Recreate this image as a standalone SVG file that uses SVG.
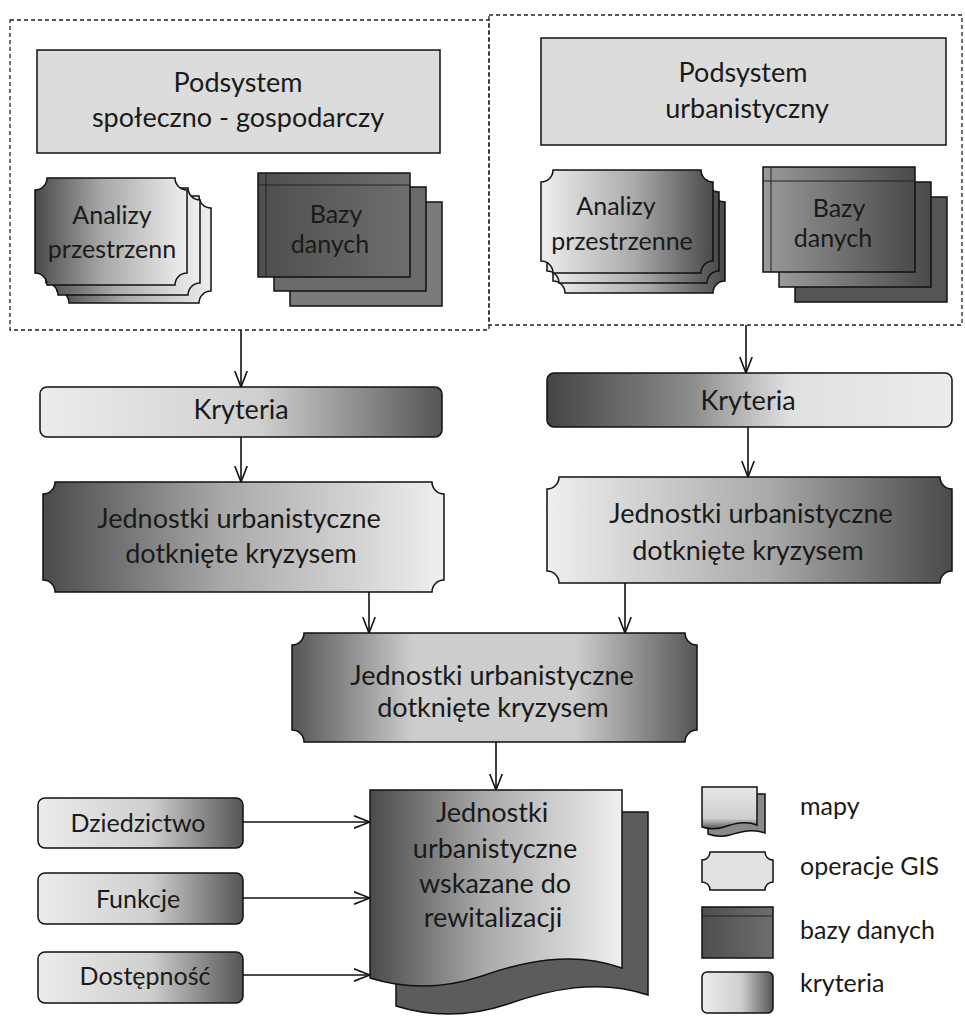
<svg xmlns="http://www.w3.org/2000/svg" width="965" height="1018" viewBox="0 0 965 1018">
<style>
text{font-family:Lato,"Liberation Sans",sans-serif;fill:#1a1a1a;text-anchor:middle}
.t27{font-size:27px}
.t26{font-size:27px}
.t25{font-size:25px}
.lg{font-size:25px;text-anchor:start}
.sh{stroke:#111;stroke-width:1.5}
.cont{fill:none;stroke:#222;stroke-width:1.3;stroke-dasharray:4 3}
.conn line{stroke:#111;stroke-width:1.6;marker-end:url(#arr)}
.inner{stroke:#222;stroke-width:1;fill:none}
</style>
<defs>
<marker id="arr" viewBox="0 0 16 14" refX="16" refY="7" markerWidth="16" markerHeight="14" markerUnits="userSpaceOnUse" orient="auto">
<path d="M0,0.8 L16,7 L0,13.2" fill="none" stroke="#111" stroke-width="1.6"/>
</marker>
<linearGradient id="dL" x1="0" y1="0" x2="1" y2="0">
<stop offset="0" stop-color="#4a4a4a"/><stop offset="0.45" stop-color="#a9a9a9"/><stop offset="1" stop-color="#efefef"/>
</linearGradient>
<linearGradient id="dR" x1="0" y1="0" x2="1" y2="0">
<stop offset="0" stop-color="#efefef"/><stop offset="0.55" stop-color="#a9a9a9"/><stop offset="1" stop-color="#4a4a4a"/>
</linearGradient>
<linearGradient id="kL" x1="0" y1="0" x2="1" y2="0">
<stop offset="0" stop-color="#ececec"/><stop offset="0.55" stop-color="#cfcfcf"/><stop offset="1" stop-color="#555"/>
</linearGradient>
<linearGradient id="kR" x1="0" y1="0" x2="1" y2="0">
<stop offset="0" stop-color="#444"/><stop offset="0.35" stop-color="#8a8a8a"/><stop offset="0.6" stop-color="#e0e0e0"/><stop offset="1" stop-color="#ececec"/>
</linearGradient>
<linearGradient id="cC" x1="0" y1="0" x2="1" y2="0">
<stop offset="0" stop-color="#555"/><stop offset="0.3" stop-color="#cdcdcd"/><stop offset="0.7" stop-color="#cdcdcd"/><stop offset="1" stop-color="#555"/>
</linearGradient>
<linearGradient id="bz" x1="0" y1="0" x2="1" y2="0">
<stop offset="0" stop-color="#4e4e4e"/><stop offset="1" stop-color="#6e6e6e"/>
</linearGradient>
<linearGradient id="bzR" x1="0" y1="0" x2="1" y2="0">
<stop offset="0" stop-color="#9a9a9a"/><stop offset="1" stop-color="#4a4a4a"/>
</linearGradient>
<linearGradient id="mp" x1="0" y1="0" x2="0" y2="1">
<stop offset="0" stop-color="#e6e6e6"/><stop offset="0.75" stop-color="#cfcfcf"/><stop offset="1" stop-color="#555"/>
</linearGradient>
</defs>

<rect width="965" height="1018" fill="#fff"/>

<g id="container-left"><rect class="cont" x="10" y="20" width="479" height="310"/></g>
<g id="container-right"><rect class="cont" x="489" y="15" width="473" height="310"/></g>

<g id="podsystem-spoleczno">
<rect class="sh" x="37" y="50" width="403" height="103" fill="#dcdcdc"/>
<text class="t27" x="238" y="92">Podsystem</text>
<text class="t27" x="238" y="127">społeczno - gospodarczy</text>
</g>

<g id="analizy-left">
<path class="sh" fill="url(#dL)" d="M69,196 H199 A12 12 0 0 0 211,208 V291 A12 12 0 0 0 199,303 H69 A12 12 0 0 0 57,291 V208 A12 12 0 0 0 69,196 Z"/>
<path class="sh" fill="url(#dL)" d="M58,188 H188 A12 12 0 0 0 200,200 V283 A12 12 0 0 0 188,295 H58 A12 12 0 0 0 46,283 V200 A12 12 0 0 0 58,188 Z"/>
<path class="sh" fill="url(#dL)" d="M47,178 H175 A12 12 0 0 0 187,190 V273 A12 12 0 0 0 175,285 H47 A12 12 0 0 0 35,273 V190 A12 12 0 0 0 47,178 Z"/>
<text class="t25" x="112" y="224">Analizy</text>
<text class="t25" x="112" y="258">przestrzenn</text>
</g>

<g id="bazy-left">
<rect class="sh" x="290" y="202" width="152" height="104" fill="#7a7a7a"/>
<rect class="sh" x="274" y="187" width="152" height="104" fill="#6a6a6a"/>
<rect class="sh" x="258" y="173" width="152" height="104" fill="url(#bz)"/>
<path class="inner" d="M258,185 H410 M266,173 V277"/>
<text class="t25" x="336" y="223">Bazy</text>
<text class="t25" x="330" y="253">danych</text>
</g>

<g id="podsystem-urbanistyczny">
<rect class="sh" x="541" y="38" width="405" height="107" fill="#dcdcdc"/>
<text class="t27" x="743" y="82">Podsystem</text>
<text class="t27" x="747" y="118">urbanistyczny</text>
</g>

<g id="analizy-right">
<path class="sh" fill="url(#dR)" d="M565,190 H713 A12 12 0 0 0 725,202 V281 A12 12 0 0 0 713,293 H565 A12 12 0 0 0 553,281 V202 A12 12 0 0 0 565,190 Z"/>
<path class="sh" fill="url(#dR)" d="M559,180 H707 A12 12 0 0 0 719,192 V271 A12 12 0 0 0 707,283 H559 A12 12 0 0 0 547,271 V192 A12 12 0 0 0 559,180 Z"/>
<path class="sh" fill="url(#dR)" d="M553,170 H701 A12 12 0 0 0 713,182 V261 A12 12 0 0 0 701,273 H553 A12 12 0 0 0 541,261 V182 A12 12 0 0 0 553,170 Z"/>
<text class="t25" x="616" y="215">Analizy</text>
<text class="t25" x="622" y="250">przestrzenne</text>
</g>

<g id="bazy-right">
<rect class="sh" x="795" y="197" width="152" height="105" fill="#555"/>
<rect class="sh" x="779" y="182" width="152" height="105" fill="url(#bzR)"/>
<rect class="sh" x="763" y="167" width="152" height="105" fill="url(#bzR)"/>
<path class="inner" d="M763,181 H915 M771,167 V272"/>
<text class="t25" x="839" y="217">Bazy</text>
<text class="t25" x="833" y="247">danych</text>
</g>

<g id="kryteria-left">
<rect class="sh" x="40" y="387" width="402" height="50" rx="7" fill="url(#kL)"/>
<text class="t26" x="241" y="419">Kryteria</text>
</g>

<g id="kryteria-right">
<rect class="sh" x="547" y="373" width="405" height="54" rx="7" fill="url(#kR)"/>
<text class="t26" x="748" y="410">Kryteria</text>
</g>

<g id="jednostki-left">
<path class="sh" fill="url(#dL)" d="M55,482 H432 A12 12 0 0 0 444,494 V580 A12 12 0 0 0 432,592 H55 A12 12 0 0 0 43,580 V494 A12 12 0 0 0 55,482 Z"/>
<text class="t26" x="239" y="528">Jednostki urbanistyczne</text>
<text class="t26" x="241" y="563">dotknięte kryzysem</text>
</g>

<g id="jednostki-right">
<path class="sh" fill="url(#dR)" d="M559,477 H940 A12 12 0 0 0 952,489 V571 A12 12 0 0 0 940,583 H559 A12 12 0 0 0 547,571 V489 A12 12 0 0 0 559,477 Z"/>
<text class="t26" x="751" y="523">Jednostki urbanistyczne</text>
<text class="t26" x="748" y="560">dotknięte kryzysem</text>
</g>

<g id="jednostki-center">
<path class="sh" fill="url(#cC)" d="M304,633 H685 A12 12 0 0 0 697,645 V730 A12 12 0 0 0 685,742 H304 A12 12 0 0 0 292,730 V645 A12 12 0 0 0 304,633 Z"/>
<text class="t26" x="492" y="685">Jednostki urbanistyczne</text>
<text class="t26" x="493" y="717">dotknięte kryzysem</text>
</g>

<g id="jednostki-wskazane">
<path class="sh" fill="#5c5c5c" d="M396,812 H648 V995 C598,978 548,990 508,1004 C466,1018 428,1016 396,1006 Z"/>
<path class="sh" fill="url(#dL)" d="M370,790 H622 V968 C572,950 522,962 482,976 C440,990 402,988 370,978 Z"/>
<text class="t26" x="492" y="822">Jednostki</text>
<text class="t26" x="495" y="858">urbanistyczne</text>
<text class="t26" x="495" y="893">wskazane do</text>
<text class="t26" x="493" y="927">rewitalizacji</text>
</g>

<g id="dziedzictwo">
<rect class="sh" x="38" y="798" width="205" height="50" rx="7" fill="url(#kL)"/>
<text class="t25" x="138" y="832">Dziedzictwo</text>
</g>
<g id="funkcje">
<rect class="sh" x="38" y="873" width="205" height="51" rx="7" fill="url(#kL)"/>
<text class="t25" x="138" y="908">Funkcje</text>
</g>
<g id="dostepnosc">
<rect class="sh" x="38" y="952" width="205" height="51" rx="7" fill="url(#kL)"/>
<text class="t25" x="145" y="985">Dostępność</text>
</g>

<g id="legend">
<g id="legend-mapy">
<path class="sh" fill="#8a8a8a" d="M708,794 H765 V833 C752,828 740,832 730,835 C722,837 714,836 708,834 Z"/>
<path class="sh" fill="url(#mp)" d="M702,787 H757 V825 C745,820 733,824 724,827 C715,830 708,829 702,827 Z"/>
<text class="lg" x="800" y="815">mapy</text>
</g>
<g id="legend-gis">
<path class="sh" fill="#e2e2e2" d="M710,852 H765 A8 8 0 0 0 773,860 V882 A8 8 0 0 0 765,890 H710 A8 8 0 0 0 702,882 V860 A8 8 0 0 0 710,852 Z"/>
<text class="lg" x="800" y="875">operacje GIS</text>
</g>
<g id="legend-bazy">
<rect class="sh" x="702" y="907" width="71" height="51" fill="url(#bz)"/>
<path class="inner" d="M702,916 H773"/>
<text class="lg" x="800" y="939">bazy danych</text>
</g>
<g id="legend-kryteria">
<rect class="sh" x="702" y="972" width="71" height="41" rx="5" fill="url(#kL)"/>
<text class="lg" x="800" y="992">kryteria</text>
</g>
</g>

<g id="connectors" class="conn">
<line x1="241" y1="330" x2="241" y2="387"/>
<line x1="746" y1="325" x2="746" y2="373"/>
<line x1="241" y1="437" x2="241" y2="482"/>
<line x1="748" y1="427" x2="748" y2="477"/>
<line x1="369" y1="592" x2="369" y2="633"/>
<line x1="625" y1="583" x2="625" y2="633"/>
<line x1="496" y1="742" x2="496" y2="790"/>
<line x1="243" y1="822" x2="370" y2="822"/>
<line x1="243" y1="898" x2="370" y2="898"/>
<line x1="243" y1="975" x2="370" y2="975"/>
</g>
</svg>
